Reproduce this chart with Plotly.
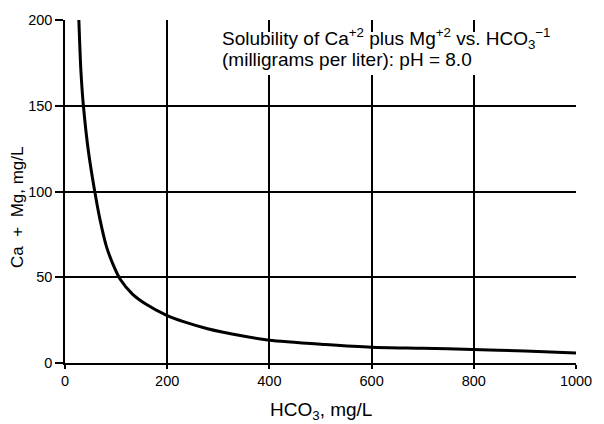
import plotly.graph_objects as go

hco3 = [27, 31, 36, 46, 58.5, 68, 81, 94, 108, 132, 158, 197, 235, 279, 343, 400, 510, 600, 700, 797, 900, 1000]
ca_mg = [201, 171, 150, 123, 99.5, 84.3, 68, 57.5, 48.8, 40.2, 34.4, 28.1, 23.8, 20.0, 16.0, 13.3, 10.8, 9.2, 8.6, 7.9, 7.0, 5.9]

x_ticks = [0, 200, 400, 600, 800, 1000]
y_ticks = [0, 50, 100, 150, 200]

title_line1 = "Solubility of Ca<sup>+2</sup> plus Mg<sup>+2</sup> vs. HCO<sub>3</sub><sup>\u22121</sup>"
title_line2 = "(milligrams per liter): pH = 8.0"
x_title = "HCO<sub>3</sub>, mg/L"
y_title = "Ca\u00a0\u00a0+\u00a0\u00a0Mg, mg/L"

font_family = "Liberation Sans, Arial, sans-serif"

fig = go.Figure()
fig.add_trace(go.Scatter(
    x=hco3, y=ca_mg, mode="lines",
    line=dict(color="black", width=3, shape="spline", smoothing=0.7),
    showlegend=False, hoverinfo="skip", cliponaxis=True,
))

fig.update_layout(
    width=604, height=424,
    margin=dict(l=64.5, r=18.5, t=16, b=61),
    paper_bgcolor="white", plot_bgcolor="white",
    font=dict(family=font_family, size=14.5, color="black"),
    xaxis=dict(
        range=[0, 1000], tickvals=x_ticks, ticks="outside", ticklen=4,
        tickcolor="black", tickwidth=1.5,
        showgrid=True, gridcolor="black", gridwidth=1.5,
        zeroline=False, showline=True, linecolor="black", linewidth=1.5,
        fixedrange=True, tickfont=dict(size=14.5),
    ),
    yaxis=dict(
        range=[0, 200], tickvals=y_ticks, ticks="outside", ticklen=8,
        tickcolor="black", tickwidth=1.5,
        showgrid=True, gridcolor="black", gridwidth=1.5,
        zeroline=False, showline=True, linecolor="black", linewidth=1.5,
        fixedrange=True, tickfont=dict(size=14.5),
    ),
    shapes=[dict(
        type="rect", xref="x", yref="y", x0=295, x1=960, y0=168, y1=193,
        fillcolor="white", line=dict(width=0), layer="above",
    )],
    annotations=[
        dict(xref="paper", yref="paper", x=0.3035, y=0.9,
             xanchor="left", yanchor="bottom", align="left", showarrow=False,
             text=title_line1, font=dict(size=19, color="black")),
        dict(xref="paper", yref="paper", x=0.3035, y=0.92,
             xanchor="left", yanchor="top", align="left", showarrow=False,
             text=title_line2, font=dict(size=19, color="black")),
        dict(xref="paper", yref="paper", x=0.5, y=-0.14,
             xanchor="center", yanchor="middle", showarrow=False,
             text=x_title, font=dict(size=19, color="black")),
        dict(xref="paper", yref="paper", x=-0.092, y=0.455,
             xanchor="center", yanchor="middle", showarrow=False, textangle=-90,
             text=y_title, font=dict(size=17, color="black")),
    ],
)

fig.write_html(
    "out.html",
    config={"displayModeBar": False, "responsive": False},
    post_script="document.body.style.margin='0';document.body.style.overflow='hidden';",
)
